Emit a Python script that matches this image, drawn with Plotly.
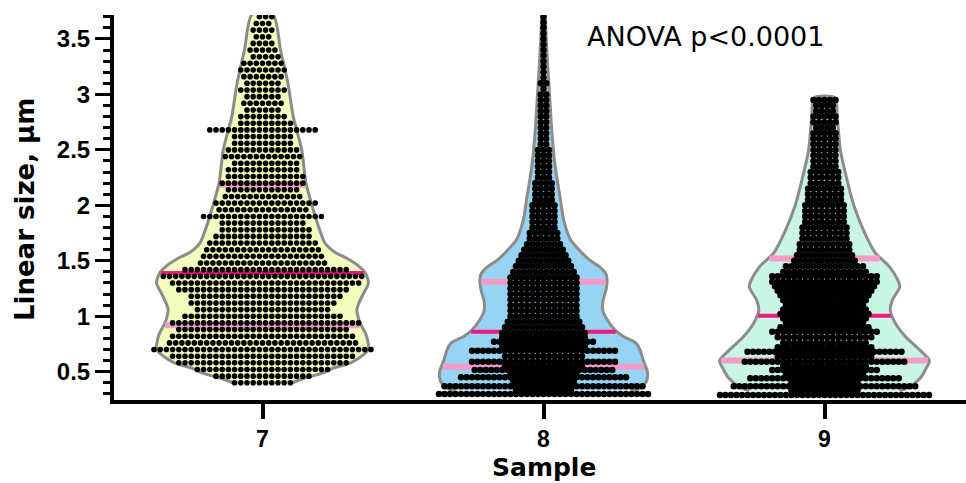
import numpy as np
import plotly.graph_objects as go

# ---------------- data ----------------
samples = [7, 8, 9]
sample_labels = ["7", "8", "9"]

# beeswarm rows: size level (µm) and number of particles at that level
levels_7 = [0.40, 0.46, 0.52, 0.58, 0.64, 0.70, 0.76, 0.82, 0.88, 0.94, 1.00, 1.06, 1.12, 1.18,
            1.24, 1.30, 1.36, 1.42, 1.48, 1.54, 1.60, 1.66, 1.72, 1.78, 1.84, 1.90, 1.96, 2.02,
            2.08, 2.14, 2.20, 2.26, 2.32, 2.38, 2.44, 2.50, 2.56, 2.62, 2.68, 2.74, 2.80, 2.86,
            2.92, 2.98, 3.04, 3.10, 3.16, 3.22, 3.28, 3.34, 3.40, 3.46, 3.52, 3.58, 3.64, 3.70]
counts_7 = [10, 16, 22, 28, 30, 36, 31, 30, 28, 31, 26, 22, 24, 25,
            28, 31, 33, 27, 21, 20, 19, 18, 16, 15, 14, 20, 15, 17,
            13, 12, 14, 13, 12, 11, 13, 12, 10, 10, 18, 9, 8, 6,
            7, 6, 8, 6, 7, 8, 7, 5, 5, 4, 3, 4, 3, 3]

levels_8 = [0.30, 0.335, 0.37, 0.41, 0.45, 0.48, 0.515, 0.55, 0.59, 0.64, 0.69, 0.73, 0.77, 0.81,
            0.85, 0.90, 0.95, 1.00, 1.05, 1.10, 1.15, 1.20, 1.25, 1.30, 1.35, 1.40, 1.45, 1.50,
            1.55, 1.60, 1.65, 1.70, 1.75, 1.80, 1.85, 1.90, 1.95, 2.00, 2.05, 2.10, 2.15, 2.20,
            2.25, 2.30, 2.35, 2.40, 2.45, 2.50, 2.55, 2.60, 2.65, 2.70, 2.75, 2.80, 2.85, 2.90,
            2.95, 3.00, 3.05, 3.10, 3.15, 3.20, 3.25, 3.30, 3.35, 3.40, 3.45, 3.50, 3.55, 3.60,
            3.65, 3.70]
counts_8 = [39, 11, 37, 12, 31, 13, 26, 15, 27, 15, 27, 16, 19, 16,
            16, 15, 14, 13, 13, 13, 13, 13, 13, 13, 13, 12, 11, 10,
            9, 8, 7, 6, 6, 5, 5, 5, 5, 5, 4, 4, 4, 4,
            3, 3, 3, 3, 3, 3, 2, 2, 2, 2, 2, 2, 2, 2,
            2, 2, 1, 2, 1, 1, 1, 1, 1, 1, 1, 1, 1, 1,
            1, 1]

levels_9 = [0.29, 0.33, 0.37, 0.405, 0.44, 0.48, 0.515, 0.55, 0.59, 0.635, 0.68, 0.72, 0.76, 0.81,
            0.86, 0.90, 0.94, 0.98, 1.02, 1.06, 1.10, 1.145, 1.19, 1.23, 1.27, 1.31, 1.36, 1.40,
            1.45, 1.50, 1.55, 1.60, 1.65, 1.70, 1.75, 1.80, 1.85, 1.90, 1.95, 2.00, 2.05, 2.10,
            2.15, 2.20, 2.25, 2.30, 2.35, 2.40, 2.45, 2.50, 2.55, 2.60, 2.65, 2.70, 2.75, 2.80,
            2.85, 2.90, 2.95]
counts_9 = [39, 13, 34, 13, 28, 15, 20, 16, 30, 18, 29, 18, 16, 18,
            20, 17, 15, 16, 17, 16, 15, 16, 17, 18, 19, 20, 20, 16,
            15, 12, 11, 10, 10, 9, 9, 9, 8, 8, 8, 8, 7, 7,
            7, 6, 6, 6, 5, 5, 5, 5, 5, 5, 5, 4, 5, 5,
            4, 4, 5]

# violin (relative kernel density, 1 = widest) at size values
density_y_7 = [0.40, 0.43, 0.49, 0.53, 0.58, 0.63, 0.70, 0.79, 0.85, 0.94, 1.00, 1.06, 1.12, 1.20,
               1.30, 1.39, 1.45, 1.52, 1.58, 1.66, 1.75, 1.99, 2.20, 2.50, 2.80, 3.10, 3.40, 3.72]
density_7 = [0.28, 0.36, 0.57, 0.66, 0.83, 0.92, 1.00, 0.99, 0.97, 0.92, 0.90, 0.89, 0.91, 0.95,
             1.00, 0.97, 0.91, 0.80, 0.68, 0.59, 0.55, 0.47, 0.41, 0.37, 0.29, 0.24, 0.17, 0.10]

density_y_8 = [0.33, 0.35, 0.41, 0.50, 0.605, 0.70, 0.76, 0.82, 0.88, 0.97, 1.05, 1.13, 1.24,
               1.31, 1.38, 1.445, 1.51, 1.60, 1.69, 1.87, 2.05, 2.35, 2.65, 2.95, 3.25, 3.50, 3.72]
density_8 = [0.83, 0.91, 0.97, 0.98, 0.94, 0.91, 0.87, 0.75, 0.67, 0.60, 0.56, 0.56, 0.59,
             0.60, 0.59, 0.53, 0.43, 0.335, 0.255, 0.19, 0.16, 0.11, 0.08, 0.06, 0.04, 0.025, 0.01]

density_y_9 = [0.33, 0.36, 0.45, 0.515, 0.60, 0.695, 0.81, 0.935, 1.055, 1.145, 1.265, 1.33,
               1.45, 1.57, 1.75, 1.99, 2.20, 2.50, 2.80, 2.97]
density_9 = [0.71, 0.80, 0.91, 0.95, 0.99, 0.90, 0.77, 0.67, 0.62, 0.64, 0.71, 0.69,
             0.61, 0.48, 0.38, 0.28, 0.22, 0.15, 0.12, 0.10]

q1_values = [0.92, 0.545, 0.60]
median_values = [1.39, 0.86, 1.005]
q3_values = [2.185, 1.31, 1.52]

y_tick_values = [0.5, 1, 1.5, 2, 2.5, 3, 3.5]
y_tick_labels = ["0.5", "1", "1.5", "2", "2.5", "3", "3.5"]

annotation_text = "ANOVA p<0.0001"
x_title = "Sample"
y_title = "Linear size, µm"

# ---------------- styling / geometry ----------------
W, H = 966, 483
ML, MR, MT, MB = 114, 0, 15, 83
PX_PER_X = 281.0
X0 = 7 - (262.5 - ML) / PX_PER_X
X1 = X0 + (W - ML - MR) / PX_PER_X
Y_RANGE = [0.245, 3.716]
VIOLIN_HALF_PX = 106.0
TITLE_FONT = "DejaVu Sans"
TICK_FONT = "Liberation Sans, Arial"
PLOT_H = H - MT - MB
PLOT_W = W - ML - MR

fills = ["#f3fbbd", "#97d4f4", "#c8f5e4"]
outline = "#8c8c8c"
pink = "#f59bc8"
magenta = "#ee1b7c"
dot_sizes = [5.6, 6.5, 6.5]
dot_gap_px = [6.2, 5.5, 5.5]
stagger = [True, False, False]

all_levels = [levels_7, levels_8, levels_9]
all_counts = [counts_7, counts_8, counts_9]
all_dy = [density_y_7, density_y_8, density_y_9]
all_d = [density_7, density_8, density_9]

fig = go.Figure()
half = VIOLIN_HALF_PX / PX_PER_X

for i, cat in enumerate(samples):
    dy = np.array(all_dy[i])
    d = np.array(all_d[i])
    xs = list(cat + d * half) + list((cat - d * half)[::-1])
    ys = list(dy) + list(dy[::-1])
    fig.add_trace(go.Scatter(x=xs, y=ys, mode="lines", fill="toself", fillcolor=fills[i],
                             line=dict(color=outline, width=3, shape="spline", smoothing=0.7),
                             hoverinfo="skip", showlegend=False))
    for q, col, lw in [(q1_values[i], pink, 6), (q3_values[i], pink, 6), (median_values[i], magenta, 4)]:
        hw = np.interp(q, dy, d) * half - 1.5 / PX_PER_X
        fig.add_trace(go.Scatter(x=[cat - hw, cat + hw], y=[q, q], mode="lines",
                                 line=dict(color=col, width=lw), hoverinfo="skip", showlegend=False))

for i, cat in enumerate(samples):
    px_x, px_y = [], []
    step = dot_gap_px[i] / PX_PER_X
    for r, (lev, n) in enumerate(zip(all_levels[i], all_counts[i])):
        shift = (0.5 * step if (stagger[i] and r % 2 == 1 and n % 2 == 1) else 0.0)
        for k in range(n):
            px_x.append(cat + (k - (n - 1) / 2.0) * step + shift)
            px_y.append(lev)
    fig.add_trace(go.Scatter(x=px_x, y=px_y, mode="markers",
                             marker=dict(size=dot_sizes[i], color="black", line=dict(width=0)),
                             hoverinfo="skip", showlegend=False))

fig.update_layout(
    width=W, height=H,
    margin=dict(l=ML, r=MR, t=MT, b=MB),
    paper_bgcolor="white", plot_bgcolor="white",
    font=dict(family=TITLE_FONT, color="black"),
    xaxis=dict(range=[X0, X1], tickmode="array", tickvals=samples, ticktext=sample_labels,
               showline=True, linewidth=4, linecolor="black", ticks="outside", ticklen=15,
               tickwidth=4, tickcolor="black", showgrid=False, zeroline=False,
               tickfont=dict(family=TICK_FONT, size=23, weight="bold", color="black")),
    yaxis=dict(range=Y_RANGE, tickmode="array", tickvals=y_tick_values, ticktext=y_tick_labels,
               showline=True, linewidth=4, linecolor="black", ticks="outside", ticklen=15,
               tickwidth=3, tickcolor="black", showgrid=False, zeroline=False,
               minor=dict(tickmode="linear", tick0=0, dtick=0.1, ticks="outside", ticklen=7,
                          tickwidth=3, tickcolor="black", showgrid=False),
               tickfont=dict(family=TICK_FONT, size=24, weight="bold", color="black")),
    annotations=[
        dict(text=annotation_text, xref="paper", yref="paper", x=(705 - ML) / PLOT_W,
             y=(400 - 36) / PLOT_H, xanchor="center", yanchor="middle", showarrow=False,
             font=dict(family=TITLE_FONT, size=27, color="black")),
        dict(text=x_title, xref="paper", yref="paper", x=(543.5 - ML) / PLOT_W,
             y=(400 - 484) / PLOT_H, xanchor="center", yanchor="bottom", showarrow=False,
             font=dict(family=TITLE_FONT, size=25, weight="bold", color="black")),
        dict(text=y_title, xref="paper", yref="paper", x=(25 - ML) / PLOT_W,
             y=(400 - 210) / PLOT_H, xanchor="center", yanchor="middle", showarrow=False,
             textangle=-90, font=dict(family=TITLE_FONT, size=26, weight="bold", color="black")),
    ],
)

fig.write_html("out.html")
